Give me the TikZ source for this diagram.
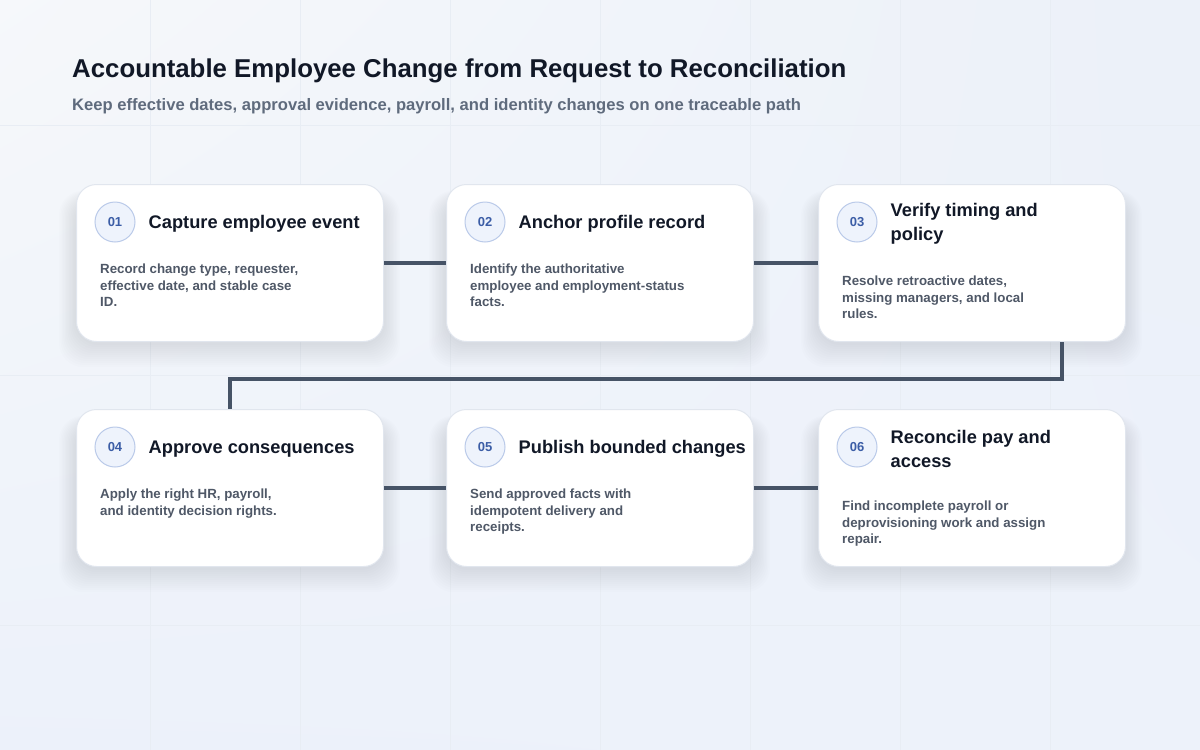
\documentclass[tikz,border=0pt]{standalone}
\usepackage{fontspec}
\setmainfont{Liberation Sans}
\usetikzlibrary{positioning,calc,shadings}
\definecolor{inkc}{HTML}{111827}
\definecolor{mutedc}{HTML}{5F6B7D}
\definecolor{bodyc}{HTML}{4F5867}
\definecolor{linkc}{HTML}{465366}
\definecolor{edgec}{HTML}{E1E6EE}
\definecolor{dotfill}{HTML}{EEF3FC}
\definecolor{dotedge}{HTML}{BACAE9}
\definecolor{dottext}{HTML}{3B5DA6}
\definecolor{gridc}{HTML}{E8EDF4}
\definecolor{shadowc}{HTML}{5B6B88}
\tikzset{
  stepcard/.style={draw=edgec, line width=1pt, fill=white, rounded corners=20pt,
    anchor=north west, minimum width=307pt, minimum height=157pt, inner sep=0pt},
  cardshade/.style={fill=shadowc, opacity=0.011, rounded corners=24pt},
  numdot/.style={circle, draw=dotedge, line width=1pt, fill=dotfill, minimum size=40pt,
    inner sep=0pt, text=dottext, font=\bfseries\fontsize{13}{13}\selectfont},
  steptitle/.style={align=left, inner sep=0pt, text=inkc,
    font=\bfseries\fontsize{18.25}{24}\selectfont},
  stepbody/.style={anchor=north west, align=left, inner sep=0pt, text=bodyc,
    font=\bfseries\fontsize{13.3}{16.5}\selectfont},
  link/.style={draw=linkc, line width=4pt}
}
\begin{document}
\begin{tikzpicture}[x=1pt, y=-1pt]
% background and faint grid
\useasboundingbox (0,0) rectangle (1200,750);
\shade[upper left=white!60!gridc, upper right=gridc!40!dotfill, lower left=dotfill!70!gridc, lower right=dotfill!80!gridc] (0,0) rectangle (1200,750);
\foreach \x in {150,300,...,1050}
  \draw[gridc, line width=0.8pt] (\x,0) -- (\x,750);
\foreach \y in {125,375,625}
  \draw[gridc, line width=0.8pt] (0,\y) -- (1200,\y);

\node[anchor=base west, inner sep=0pt, text=inkc, font=\bfseries\fontsize{25.8}{30}\selectfont] (title) at (72,77) {Accountable Employee Change from Request to Reconciliation};
\node[anchor=base west, inner sep=0pt, text=mutedc, font=\bfseries\fontsize{16.6}{20}\selectfont] (subtitle) at (72,110) {Keep effective dates, approval evidence, payroll, and identity changes on one traceable path};

% steps
\foreach \i/\cx/\cy/\ttl/\bdy/\dy in {
  1/76/184/{Capture employee event}/{Record change type, requester,\\effective date, and stable case\\ID.}/80,
  2/446/184/{Anchor profile record}/{Identify the authoritative\\employee and employment-status\\facts.}/80,
  3/818/184/{Verify timing and\\policy}/{Resolve retroactive dates,\\missing managers, and local\\rules.}/92,
  4/76/409/{Approve consequences}/{Apply the right HR, payroll,\\and identity decision rights.}/80,
  5/446/409/{Publish bounded changes}/{Send approved facts with\\idempotent delivery and\\receipts.}/80,
  6/818/409/{Reconcile pay and\\access}/{Find incomplete payroll or\\deprovisioning work and assign\\repair.}/92}
{
  \foreach \s in {1,...,12}
    \fill[cardshade] ({\cx-1.4*\s},{\cy+14-0.6*\s}) rectangle ({\cx+307+1.4*\s},{\cy+159+2*\s});
  \node[stepcard] (c\i) at (\cx,\cy) {};
  \node[numdot] (n\i) at ($(c\i.north west)+(39,38)$) {0\i};
  \node[steptitle, right=13pt of n\i, yshift=-2pt] (t\i) {\ttl};
  \node[stepbody] (b\i) at ($(c\i.north west)+(24,\dy)$) {\bdy};
}

% connectors
\coordinate (bend) at (1062,379);
\draw[link] (c1.east) -- (c2.west);
\draw[link] (c2.east) -- (c3.west);
\draw[link] (c3.south -| bend) -- (bend) -| (c4.north);
\draw[link] (c4.east) -- (c5.west);
\draw[link] (c5.east) -- (c6.west);
\end{tikzpicture}
\end{document}
